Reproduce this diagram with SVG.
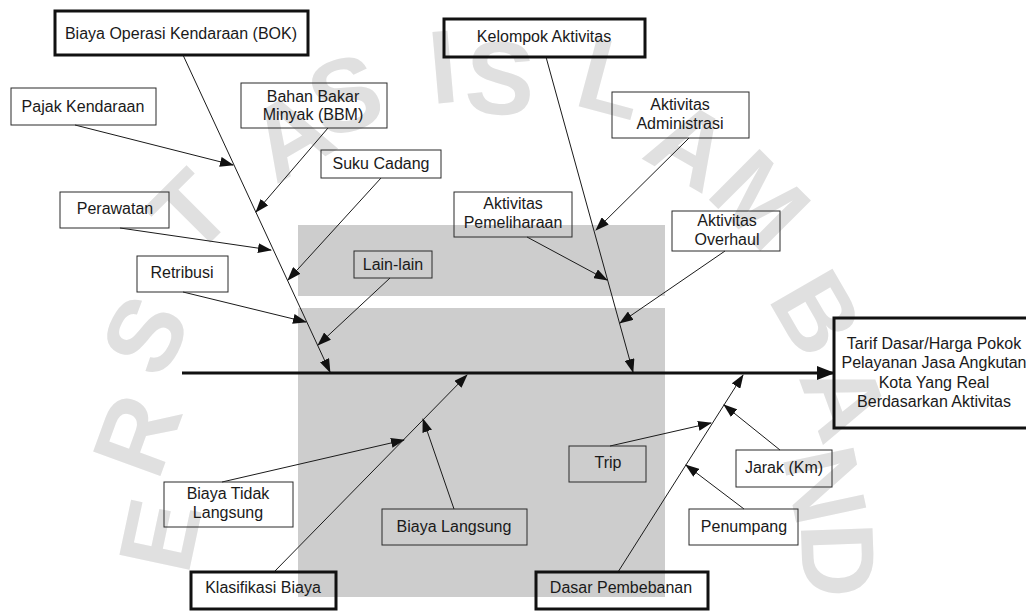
<svg xmlns="http://www.w3.org/2000/svg" width="1026" height="612" viewBox="0 0 1026 612">
<style>
.wm{font-family:"Liberation Sans",Arial,sans-serif;font-weight:bold;font-size:104px;fill:#e0e0e0;text-anchor:middle;dominant-baseline:central}
.bg{fill:#cdcdcd}
.box{fill:none;stroke:#2a2a2a;stroke-width:1}
.main{fill:none;stroke:#111;stroke-width:3}
.t{font-family:"Liberation Sans",Arial,sans-serif;font-size:16px;fill:#1a1a1a;text-anchor:middle}
.c{stroke:#1a1a1a;stroke-width:1;fill:none;marker-end:url(#ah)}
.spine{stroke:#111;stroke-width:3;fill:none;marker-end:url(#big)}
</style>
<defs>
<marker id="ah" markerWidth="14" markerHeight="10" refX="13" refY="5" orient="auto" markerUnits="userSpaceOnUse"><path d="M0,0 L14,5 L0,10 z" fill="#111"/></marker>
<marker id="big" markerWidth="18" markerHeight="14" refX="17" refY="7" orient="auto" markerUnits="userSpaceOnUse"><path d="M0,0 L18,7 L0,14 z" fill="#111"/></marker>
</defs>
<rect width="1026" height="612" fill="#fff"/>
<g id="watermark">
<text class="wm" transform="translate(160,535) rotate(-78)">E</text>
<text class="wm" transform="translate(137,435) rotate(-70)">R</text>
<text class="wm" transform="translate(145,335) rotate(-62)">S</text>
<text class="wm" transform="translate(190,212) rotate(-45)">T</text>
<text class="wm" transform="translate(290,135) rotate(-30)">A</text>
<text class="wm" transform="translate(345,95) rotate(-18)">S</text>
<text class="wm" transform="translate(443,67) rotate(-5)">I</text>
<text class="wm" transform="translate(500,78) rotate(3)">S</text>
<text class="wm" transform="translate(612,78) rotate(15)">L</text>
<text class="wm" transform="translate(690,145) rotate(30)">A</text>
<text class="wm" transform="translate(760,200) rotate(45)">M</text>
<text class="wm" transform="translate(817,313) rotate(60)">B</text>
<text class="wm" transform="translate(845,400) rotate(70)">A</text>
<text class="wm" transform="translate(825,485) rotate(78)">N</text>
<text class="wm" transform="translate(838,560) rotate(88)">D</text>
</g>
<rect class="bg" x="298" y="225" width="367" height="71"/>
<rect class="bg" x="298" y="308" width="367" height="289"/>
<g id="connectors">
<line class="spine" x1="182" y1="373" x2="834" y2="373"/>
<line class="c" x1="183" y1="55" x2="330" y2="372"/>
<line class="c" x1="75" y1="125" x2="233" y2="165"/>
<line class="c" x1="328" y1="128" x2="256" y2="212"/>
<line class="c" x1="120" y1="228" x2="271" y2="250"/>
<line class="c" x1="381" y1="178" x2="288" y2="280"/>
<line class="c" x1="183" y1="292" x2="306" y2="322"/>
<line class="c" x1="390" y1="278" x2="318" y2="345"/>
<line class="c" x1="546" y1="57" x2="633" y2="372"/>
<line class="c" x1="689" y1="138" x2="596" y2="230"/>
<line class="c" x1="527" y1="237" x2="607" y2="280"/>
<line class="c" x1="725" y1="251" x2="620" y2="323"/>
<line class="c" x1="274" y1="572" x2="467" y2="375"/>
<line class="c" x1="222" y1="482" x2="404" y2="440"/>
<line class="c" x1="454" y1="509" x2="423" y2="419"/>
<line class="c" x1="618" y1="572" x2="743" y2="375"/>
<line class="c" x1="610" y1="446" x2="711" y2="423"/>
<line class="c" x1="780" y1="450" x2="724" y2="405"/>
<line class="c" x1="744" y1="509" x2="686" y2="465"/>
</g>
<g id="bok"><rect class="main" x="55" y="11" width="253" height="44"/><text class="t" x="181" y="39">Biaya Operasi Kendaraan (BOK)</text></g>
<g id="pajak"><rect class="box" x="11" y="88" width="145" height="37"/><text class="t" x="83" y="112">Pajak Kendaraan</text></g>
<g id="bbm"><rect class="box" x="241" y="83" width="146" height="45"/><text class="t" x="313" y="102">Bahan Bakar</text><text class="t" x="313" y="120">Minyak (BBM)</text></g>
<g id="suku"><rect class="box" x="321" y="150" width="120" height="28"/><text class="t" x="381" y="169">Suku Cadang</text></g>
<g id="perawatan"><rect class="box" x="60" y="192" width="109" height="36"/><text class="t" x="115" y="214">Perawatan</text></g>
<g id="retribusi"><rect class="box" x="137" y="256" width="91" height="36"/><text class="t" x="182" y="278">Retribusi</text></g>
<g id="lain"><rect class="box" x="354" y="251" width="78" height="27"/><text class="t" x="393" y="270">Lain-lain</text></g>
<g id="kelompok"><rect class="main" x="444" y="19" width="201" height="38"/><text class="t" x="544" y="42">Kelompok Aktivitas</text></g>
<g id="administrasi"><rect class="box" x="612" y="92" width="137" height="46"/><text class="t" x="680" y="110">Aktivitas</text><text class="t" x="680" y="129">Administrasi</text></g>
<g id="pemeliharaan"><rect class="box" x="454" y="192" width="118" height="45"/><text class="t" x="513" y="209">Aktivitas</text><text class="t" x="513" y="228">Pemeliharaan</text></g>
<g id="overhaul"><rect class="box" x="672" y="211" width="108" height="40"/><text class="t" x="727" y="226">Aktivitas</text><text class="t" x="727" y="245">Overhaul</text></g>
<g id="tarif"><rect class="main" x="834" y="318" width="200" height="110"/><text class="t" x="934" y="349">Tarif Dasar/Harga Pokok</text><text class="t" x="934" y="368">Pelayanan Jasa Angkutan</text><text class="t" x="934" y="388">Kota Yang Real</text><text class="t" x="934" y="407">Berdasarkan Aktivitas</text></g>
<g id="tidaklangsung"><rect class="box" x="164" y="482" width="129" height="45"/><text class="t" x="228" y="499">Biaya Tidak</text><text class="t" x="228" y="518">Langsung</text></g>
<g id="langsung"><rect class="box" x="382" y="509" width="145" height="36"/><text class="t" x="454" y="532">Biaya Langsung</text></g>
<g id="klasifikasi"><rect class="main" x="191" y="572" width="145" height="37"/><text class="t" x="263" y="593">Klasifikasi Biaya</text></g>
<g id="trip"><rect class="box" x="569" y="446" width="77" height="36"/><text class="t" x="608" y="468">Trip</text></g>
<g id="jarak"><rect class="box" x="736" y="450" width="96" height="37"/><text class="t" x="784" y="473">Jarak (Km)</text></g>
<g id="penumpang"><rect class="box" x="689" y="509" width="109" height="36"/><text class="t" x="744" y="532">Penumpang</text></g>
<g id="dasar"><rect class="main" x="536" y="572" width="172" height="37"/><text class="t" x="621" y="593">Dasar Pembebanan</text></g>
</svg>
